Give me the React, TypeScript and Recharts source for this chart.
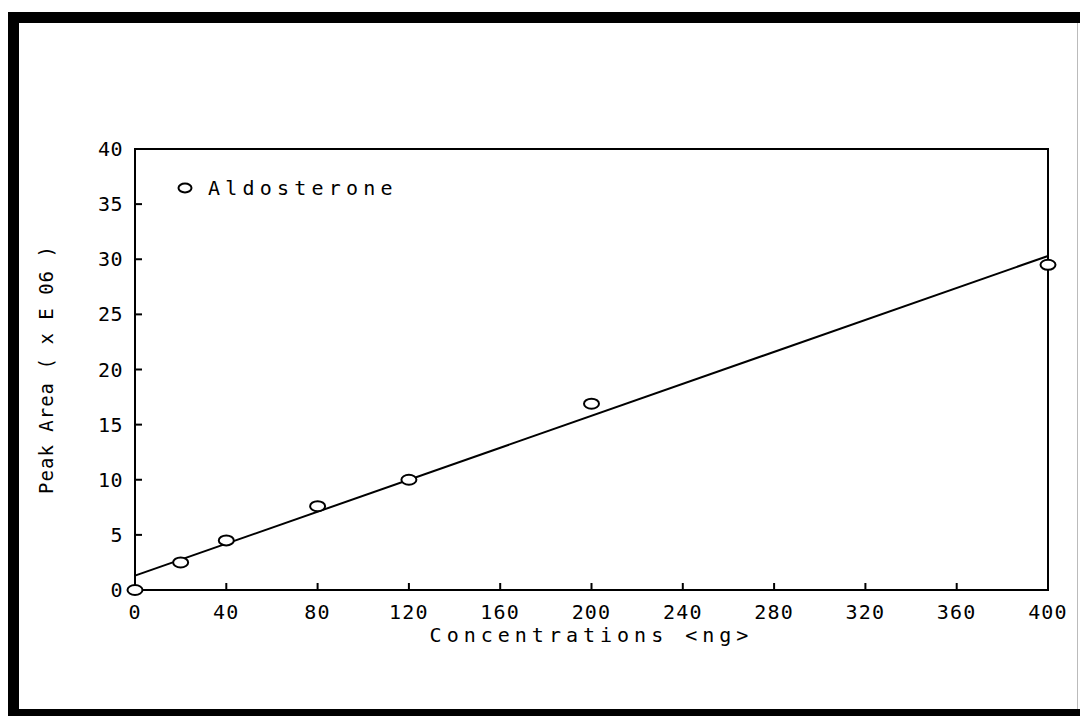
import React from 'react';
import {
  ComposedChart,
  Line,
  Scatter,
  XAxis,
  YAxis,
  ReferenceArea,
  Legend,
  Label,
} from 'recharts';

const concentrations = [0, 20, 40, 80, 120, 200, 400];
const peakAreas = [0, 2.5, 4.5, 7.6, 10.0, 16.9, 29.5];
const fitX = [0, 400];
const fitY = [1.3, 30.3];
const xTicks = [0, 40, 80, 120, 160, 200, 240, 280, 320, 360, 400];
const yTicks = [0, 5, 10, 15, 20, 25, 30, 35, 40];
const seriesName = 'Aldosterone';
const xTitle = 'Concentrations <ng>';
const yTitle = 'Peak Area ( x E 06 )';

const points = concentrations.map((x, i) => ({ x, y: peakAreas[i] }));
const fitLine = fitX.map((x, i) => ({ x, y: fitY[i] }));

const FONT = '"DejaVu Sans Mono", monospace';

const HollowMark = (props: any) => {
  const { cx, cy } = props;
  if (cx == null || cy == null) return null;
  return <ellipse cx={cx} cy={cy} rx={7.5} ry={5} fill="#fff" stroke="#000" strokeWidth={2} />;
};

const LegendContent = () => (
  <div style={{ display: 'flex', alignItems: 'center', fontFamily: FONT, fontSize: 20, letterSpacing: 5.2, color: '#000', whiteSpace: 'nowrap' }}>
    <svg width={18} height={14} style={{ marginRight: 14 }}>
      <ellipse cx={9} cy={7} rx={6.5} ry={4.5} fill="#fff" stroke="#000" strokeWidth={2} />
    </svg>
    <span>{seriesName}</span>
  </div>
);

export default function App() {
  return (
    <div style={{ position: 'absolute', left: 0, top: 0, width: 1080, height: 716, background: '#fff', overflow: 'hidden' }}>
      <div style={{ position: 'absolute', left: 8, top: 12, width: 11, height: 704, background: '#000' }} />
      <div style={{ position: 'absolute', left: 8, top: 12, width: 1072, height: 11, background: '#000' }} />
      <div style={{ position: 'absolute', left: 8, top: 709, width: 1072, height: 7, background: '#000' }} />
      <div style={{ position: 'absolute', left: 1077, top: 23, width: 1, height: 686, background: '#bbb' }} />
      <div style={{ position: 'absolute', left: 0, top: 0 }}>
        <ComposedChart
          width={1080}
          height={716}
          margin={{ top: 149, right: 32, bottom: 66, left: 0 }}
        >
          <XAxis
            dataKey="x"
            type="number"
            domain={[0, 400]}
            ticks={xTicks}
            interval={0}
            height={60}
            axisLine={{ stroke: '#000', strokeWidth: 2 }}
            tickLine={{ stroke: '#000', strokeWidth: 2 }}
            tickSize={-7}
            tickMargin={22}
            tick={{ fill: '#000', fontFamily: FONT, fontSize: 20, letterSpacing: 1.2 }}
          >
            <Label
              content={(p: any) => {
                const vb = p.viewBox || {};
                return (
                  <text
                    x={vb.x + vb.width / 2}
                    y={vb.y + 52}
                    textAnchor="middle"
                    fontFamily={FONT}
                    fontSize={20}
                    letterSpacing={5}
                    fill="#000"
                  >
                    {xTitle}
                  </text>
                );
              }}
            />
          </XAxis>
          <YAxis
            dataKey="y"
            type="number"
            domain={[0, 40]}
            ticks={yTicks}
            interval={0}
            width={135}
            axisLine={{ stroke: '#000', strokeWidth: 2 }}
            tickLine={{ stroke: '#000', strokeWidth: 2 }}
            tickSize={-7}
            tickMargin={19}
            tick={{ fill: '#000', fontFamily: FONT, fontSize: 20, letterSpacing: 0.5 }}
          >
            <Label
              content={(p: any) => {
                const vb = p.viewBox || {};
                const cx = vb.x + 46;
                const cy = vb.y + vb.height / 2;
                return (
                  <text
                    x={cx}
                    y={cy}
                    transform={`rotate(-90 ${cx} ${cy})`}
                    textAnchor="middle"
                    dominantBaseline="central"
                    fontFamily={FONT}
                    fontSize={19}
                    letterSpacing={1}
                    fill="#000"
                  >
                    {yTitle}
                  </text>
                );
              }}
            />
          </YAxis>
          <ReferenceArea
            x1={0}
            x2={400}
            y1={0}
            y2={40}
            fill="none"
            stroke="#000"
            strokeWidth={2}
            fillOpacity={0}
            ifOverflow="visible"
          />
          <Legend
            layout="horizontal"
            verticalAlign="middle"
            align="center"
            content={<LegendContent />}
            wrapperStyle={{ position: 'absolute', left: 176, top: 176, width: 'auto', height: 'auto' }}
          />
          <Line
            data={fitLine}
            dataKey="y"
            name="fit"
            stroke="#000"
            strokeWidth={2}
            dot={false}
            isAnimationActive={false}
            legendType="none"
          />
          <Scatter
            data={points}
            dataKey="y"
            name={seriesName}
            shape={HollowMark}
            isAnimationActive={false}
          />
        </ComposedChart>
      </div>
    </div>
  );
}
